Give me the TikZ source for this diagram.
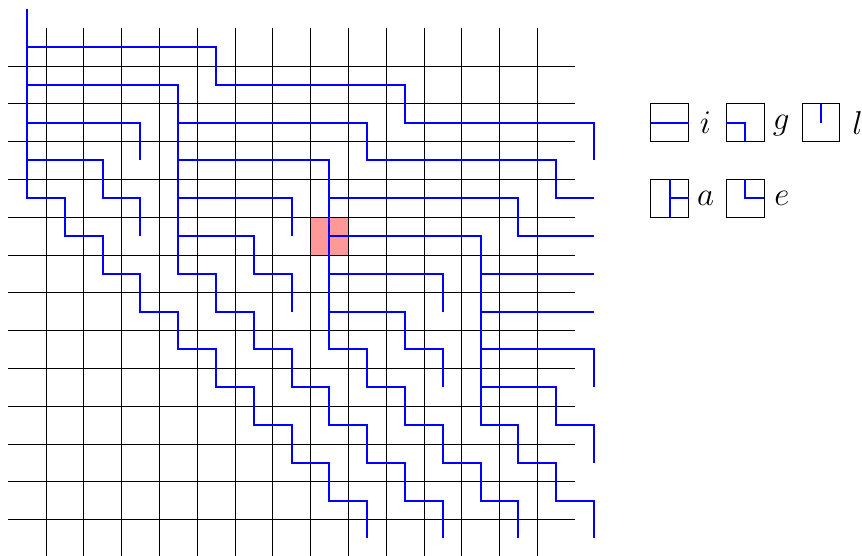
\documentclass[tikz,border=0pt]{standalone}
\usepackage{amssymb}
\usepackage{amsmath}
\usepackage{xcolor}
\usepackage{tikz}
\usetikzlibrary{positioning}

\begin{document}
\begin{tikzpicture}[
        node distance=1cm and 1cm,
        gridline/.style={black, line width=0.4pt},
        lpath/.style={blue, line width=1.5pt},
        marked/.style={fill=red!40},
        tile/.style={rectangle, draw, minimum size=1cm, inner sep=0pt, outer sep=0pt},
        lbl/.style={inner sep=1pt, text depth=0pt, font=\fontsize{23}{27}\selectfont}
    ]
        \useasboundingbox (-0.714,1.243) rectangle (22.09,-13.44);
        % marked cell
        \fill[marked] (7.5,-4.5) rectangle (8.5,-5.5);
        % grid
        \foreach \x in {0.5,1.5,...,13.5}
            \draw[gridline] (\x,0.5) -- (\x,-13.5);
        \foreach \y in {0.5,1.5,...,12.5}
            \draw[gridline] (-0.5,-\y) -- (14.5,-\y);
        % paths
        \draw[lpath] (0,1) -- (0,-4) \foreach \k in {1,...,9} { -- ++(1,0) -- ++(0,-1) };
        \draw[lpath] (0,0) -| (5,-1) -| (10,-2) -| (15,-3);
        \draw[lpath] (0,-1) -| (4,-6) \foreach \k in {1,...,7} { -- ++(1,0) -- ++(0,-1) };
        \draw[lpath] (0,-2) -| (3,-3);
        \draw[lpath] (0,-3) -| (2,-4) -| (3,-5);
        \draw[lpath] (4,-2) -| (9,-3) -| (14,-4) -- (15,-4);
        \draw[lpath] (4,-3) -| (8,-8) \foreach \k in {1,...,5} { -- ++(1,0) -- ++(0,-1) };
        \draw[lpath] (4,-4) -| (7,-5);
        \draw[lpath] (4,-5) -| (6,-6) -| (7,-7);
        \draw[lpath] (8,-4) -| (13,-5) -- (15,-5);
        \draw[lpath] (8,-5) -| (12,-10) \foreach \k in {1,...,3} { -- ++(1,0) -- ++(0,-1) };
        \draw[lpath] (8,-6) -| (11,-7);
        \draw[lpath] (8,-7) -| (10,-8) -| (11,-9);
        \draw[lpath] (12,-6) -- (15,-6);
        \draw[lpath] (12,-7) -- (15,-7);
        \draw[lpath] (12,-8) -| (15,-9);
        \draw[lpath] (12,-9) -| (14,-10) -| (15,-11);
        % legend
        \node[tile] (ti) at (17,-2) {};
        \node[tile, right=of ti] (tg) {};
        \node[tile, right=of tg] (tl) {};
        \node[tile, below=of ti] (ta) {};
        \node[tile, right=of ta] (te) {};
        \draw[lpath] (ti.west) -- (ti.east);
        \draw[lpath] (tg.west) -- (tg.center) -- (tg.south);
        \draw[lpath] (tl.north) -- (tl.center);
        \draw[lpath] (ta.north) -- (ta.south);
        \draw[lpath] (ta.center) -- (ta.east);
        \draw[lpath] (te.north) -- (te.center) -- (te.east);
        \node[lbl] (li) at ([xshift=4.5mm]ti.east) {$i$};
        \node[lbl] (lg) at ([xshift=4.5mm]tg.east) {$g$};
        \node[lbl] (ll) at ([xshift=4.7mm]tl.east) {$l$};
        \node[lbl] (la) at ([xshift=4.5mm]ta.east) {$a$};
        \node[lbl] (le) at ([xshift=4.7mm]te.east) {$e$};
    \end{tikzpicture}
\end{document}
